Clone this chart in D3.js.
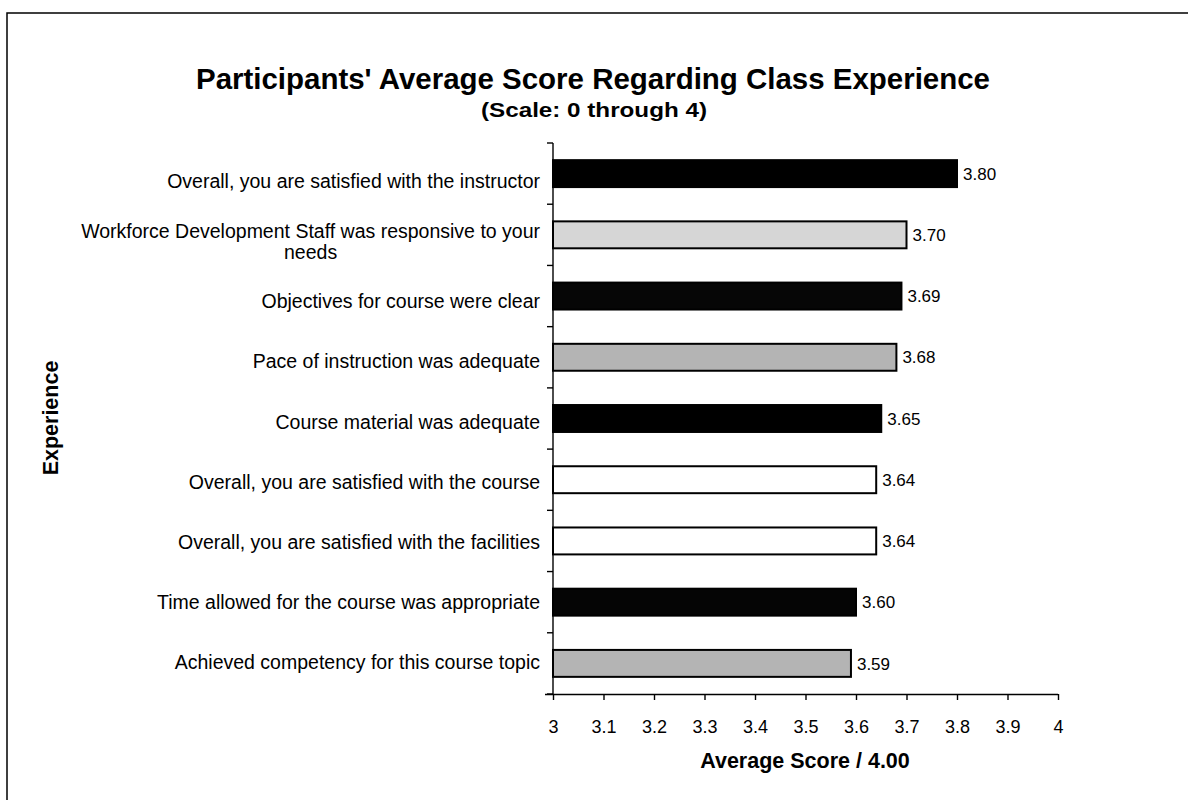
<!DOCTYPE html>
<html>
<head>
<meta charset="utf-8">
<script src="https://cdn.jsdelivr.net/npm/d3@7"></script>
<style>
  html, body { margin: 0; padding: 0; background: #fff; }
  svg { display: block; font-family: "Liberation Sans", Arial, sans-serif; }
</style>
</head>
<body>
<svg id="chart" width="1188" height="800"></svg>
<script>
const categories = [
  "Overall, you are satisfied with the instructor",
  "Workforce Development Staff was responsive to your|needs",
  "Objectives for course were clear",
  "Pace of instruction was adequate",
  "Course material was adequate",
  "Overall, you are satisfied with the course",
  "Overall, you are satisfied with the facilities",
  "Time allowed for the course was appropriate",
  "Achieved competency for this course topic"
];
const values = [3.80, 3.70, 3.69, 3.68, 3.65, 3.64, 3.64, 3.60, 3.59];
const fills = ["#000000", "#d6d6d6", "#060606", "#b4b4b4", "#000000", "#ffffff", "#ffffff", "#050505", "#b4b4b4"];
const xTicks = [3, 3.1, 3.2, 3.3, 3.4, 3.5, 3.6, 3.7, 3.8, 3.9, 4];
const xTickLabels = ["3", "3.1", "3.2", "3.3", "3.4", "3.5", "3.6", "3.7", "3.8", "3.9", "4"];

const svg = d3.select("#chart");

// outer frame
svg.append("rect").attr("x", 7).attr("y", 13).attr("width", 1200).attr("height", 800)
  .attr("fill", "none").attr("stroke", "#000").attr("stroke-width", 1.5);

const pLeft = 553, pRight = 1058, pTop = 143, pBottom = 694;

const x = d3.scaleLinear().domain([3, 4]).range([pLeft, pRight]);
const y = d3.scaleBand().domain(d3.range(categories.length)).range([pTop, pBottom]).paddingInner(0.56).paddingOuter(0.28);
// category labels sit on a slightly shifted band (as in the scanned original)
const yLab = d3.scaleBand().domain(d3.range(categories.length)).range([151, 692]);

// title (condensed bold)
svg.append("text").attr("x", 593).attr("y", 89).attr("text-anchor", "middle")
  .attr("font-size", 30).attr("font-weight", "bold")
  .attr("textLength", 794).attr("lengthAdjust", "spacingAndGlyphs")
  .text("Participants' Average Score Regarding Class Experience");
svg.append("text").attr("x", 594).attr("y", 117).attr("text-anchor", "middle")
  .attr("font-size", 21).attr("font-weight", "bold")
  .attr("textLength", 226).attr("lengthAdjust", "spacingAndGlyphs")
  .text("(Scale: 0 through 4)");

// bars
svg.append("g").selectAll("rect").data(values).join("rect")
  .attr("x", x(3))
  .attr("y", (d, i) => y(i))
  .attr("width", d => x(d) - x(3))
  .attr("height", y.bandwidth())
  .attr("fill", (d, i) => fills[i])
  .attr("stroke", "#000").attr("stroke-width", 2);

// value labels
svg.append("g").selectAll("text").data(values).join("text")
  .attr("x", d => x(d) + 6)
  .attr("y", (d, i) => y(i) + y.bandwidth() / 2)
  .attr("dy", "0.36em")
  .attr("font-size", 17)
  .text(d => d.toFixed(2));

// x axis
const xAxis = d3.axisBottom(x).tickValues(xTicks)
  .tickFormat((d, i) => xTickLabels[i]).tickSize(6).tickPadding(20);
const gx = svg.append("g").attr("transform", `translate(0,${pBottom})`).call(xAxis);
gx.select(".domain").attr("stroke", "#000").attr("stroke-width", 1.4).attr("d", `M${pLeft - 8},0.5H${pRight}`);
gx.selectAll(".tick line").attr("stroke", "#000").attr("stroke-width", 1.4);
gx.selectAll(".tick text").attr("font-size", 18).attr("font-family", "'Liberation Sans', Arial, sans-serif").attr("fill", "#000");

// y axis line + boundary ticks
const yBounds = d3.range(categories.length + 1).map(i => pTop + i * (pBottom - pTop) / categories.length);
svg.append("line").attr("x1", pLeft).attr("x2", pLeft).attr("y1", pTop).attr("y2", pBottom)
  .attr("stroke", "#000").attr("stroke-width", 1.4);
svg.append("g").selectAll("line").data(yBounds).join("line")
  .attr("x1", pLeft - 6).attr("x2", pLeft).attr("y1", d => d).attr("y2", d => d)
  .attr("stroke", "#000").attr("stroke-width", 1.4);

// category labels
const labG = svg.append("g");
categories.forEach((c, i) => {
  const lines = c.split("|");
  const cy = yLab(i) + yLab.bandwidth() / 2;
  const lh = 21;
  const t = labG.append("text").attr("font-size", 19.5).attr("fill", "#000");
  const y0 = cy - (lines.length - 1) * lh / 2;
  const spans = lines.map((ln, k) => t.append("tspan").attr("x", 540).attr("y", y0 + k * lh)
    .attr("dy", "0.36em").attr("text-anchor", "end").text(ln));
  if (lines.length > 1) {
    const w0 = spans[0].node().getComputedTextLength();
    const center = 540 - w0 / 2;
    spans.forEach(s => s.attr("x", center).attr("text-anchor", "middle"));
    spans[0].attr("x", 540).attr("text-anchor", "end");
  }
});

// axis titles
svg.append("text").attr("transform", "translate(50,418) rotate(-90)")
  .attr("text-anchor", "middle").attr("dy", "0.36em")
  .attr("font-size", 21.5).attr("font-weight", "bold").text("Experience");
svg.append("text").attr("x", 805).attr("y", 768).attr("text-anchor", "middle")
  .attr("font-size", 21.5).attr("font-weight", "bold").text("Average Score / 4.00");
</script>
</body>
</html>
